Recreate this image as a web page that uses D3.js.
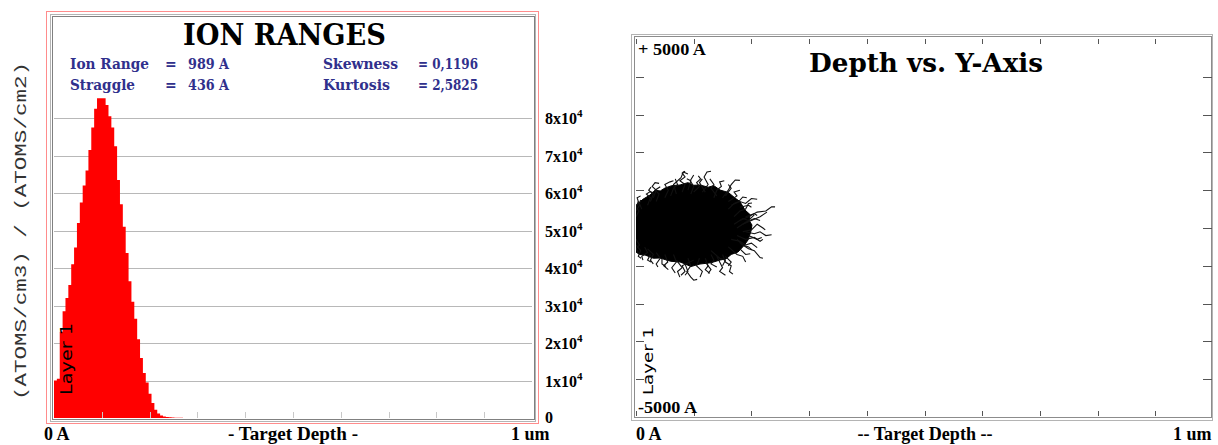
<!DOCTYPE html>
<html>
<head>
<meta charset="utf-8">
<script src="https://cdn.jsdelivr.net/npm/d3@7"></script>
<style>
  html, body { margin: 0; padding: 0; background: #fff; }
  svg { display: block; }
</style>
</head>
<body>
<svg id="chart" width="1218" height="445"></svg>
<script>
// ---- ion range histogram (60 A bins, atoms/cm3 per atoms/cm2) ----
var binWidth = 60;
var ionCounts = [10000, 10500, 23000, 28500, 32000, 35500, 41000, 45500, 52000, 57500,
                 62000, 66000, 71500, 77500, 82500, 85300, 85300, 85300, 83500, 80500,
                 77500, 72500, 63500, 57000, 51000, 44000, 36500, 31000, 26500, 21000,
                 16000, 12000, 9500, 6500, 4000, 2200, 1200, 700, 400, 300,
                 200, 150, 100, 100, 50];
var countTicks = [10000, 20000, 30000, 40000, 50000, 60000, 70000, 80000];
var countTickLabels = ["1", "2", "3", "4", "5", "6", "7", "8"];
var depthTicks = [1000, 2000, 3000, 4000, 5000, 6000, 7000, 8000, 9000];
var statNames = ["Ion Range", "Straggle", "Skewness", "Kurtosis"];
var statValues = ["989 A", "436 A", "0,1196", "2,5825"];

// ---- depth vs lateral trajectories (A) ----
var lateralTicks = [-4000, -3000, -2000, -1000, 0, 1000, 2000, 3000, 4000];
var trackDepthTicks = [0, 1000, 2000, 3000, 4000, 5000, 6000, 7000, 8000, 9000];
var coreOutline = [[0, 600], [120, 760], [243, 873], [330, 1000], [420, 980], [503, 1058], [620, 1120],
                   [763, 1138], [900, 1200], [1000, 1130], [1109, 1138], [1250, 1080], [1350, 1120],
                   [1456, 1005], [1600, 940], [1716, 794], [1800, 700], [1889, 476], [1980, 350],
                   [1960, 200], [2010, 79], [1990, -100], [1941, -318], [1880, -450], [1768, -635],
                   [1650, -700], [1556, -820], [1456, -847], [1300, -920], [1109, -953], [950, -1020],
                   [850, -950], [763, -900], [600, -880], [416, -794], [300, -800], [156, -714],
                   [60, -700], [0, -635]];
var tracks = [
  [[700, 900], [650, 1150], [780, 1330], [820, 1480], [900, 1430]],
  [[1150, 950], [1250, 1150], [1180, 1350], [1230, 1480], [1300, 1500]],
  [[500, 800], [560, 1000], [500, 1150], [590, 1220], [650, 1250]],
  [[350, 700], [400, 900], [330, 1000], [420, 1090]],
  [[200, 600], [250, 800], [180, 900], [240, 960], [300, 940]],
  [[1500, 800], [1600, 1000], [1650, 1150], [1720, 1270], [1800, 1260]],
  [[1350, 800], [1400, 1000], [1480, 1100], [1450, 1220], [1530, 1250]],
  [[1600, 500], [1700, 650], [1780, 700], [1850, 820], [1920, 800]],
  [[1700, 300], [1800, 450], [1900, 500], [1950, 650], [2010, 660]],
  [[1800, 200], [1950, 300], [2100, 420], [2250, 450], [2350, 560], [2410, 560]],
  [[1850, 100], [2000, 200], [2150, 300], [2270, 420]],
  [[1850, -100], [2000, -50], [2100, 100], [2200, 0], [2240, -50]],
  [[1800, -400], [1950, -550], [2050, -600], [2150, -780], [2200, -800]],
  [[1750, -300], [1850, -450], [1950, -500], [2010, -580]],
  [[1500, -700], [1550, -900], [1650, -1000], [1620, -1150], [1680, -1220]],
  [[1300, -700], [1350, -850], [1300, -950], [1400, -1030]],
  [[900, -800], [950, -1000], [880, -1150], [950, -1300], [1000, -1380], [1060, -1360]],
  [[650, -700], [700, -900], [620, -1050], [680, -1190]],
  [[350, -650], [420, -800], [350, -950], [380, -1030]],
  [[150, -500], [200, -650], [100, -750], [120, -850]],
  [[1100, -800], [1050, -1000], [1150, -1150], [1110, -1300]],
  [[100, 500], [60, 650], [80, 740]],
  [[950, 900], [1000, 1100], [940, 1250], [1000, 1400]],
  [[1300, -600], [1450, -800], [1550, -850], [1500, -1000]],
  [[300, 800], [350, 1000], [280, 1100], [330, 1200], [400, 1180]],
  [[800, 950], [850, 1150], [760, 1250], [850, 1350], [800, 1450], [850, 1500]],
  [[1600, 700], [1750, 850], [1700, 950], [1800, 1000]],
  [[1750, 0], [1900, 150], [2050, 250], [2150, 200]],
  [[1750, -200], [1900, -300], [2050, -250], [2150, -350], [2200, -300]],
  [[1600, -500], [1750, -700], [1850, -750], [1900, -900]],
  [[1200, -800], [1250, -1000], [1200, -1100], [1280, -1200]],
  [[500, -700], [550, -900], [480, -1000], [560, -1100]],
  [[200, -550], [300, -700], [250, -850], [300, -950]],
  [[1000, -850], [800, -1000], [850, -1150], [780, -1250]],
  [[1900, -100], [2050, -150], [2150, -100], [2250, -200], [2350, -180]],
  [[600, 850], [650, 1050], [720, 1150], [680, 1300]],
  [[1400, 850], [1300, 1050], [1350, 1150], [1280, 1300]],
  [[0, 300], [50, 450], [0, 550], [40, 700]],
  [[0, -300], [60, -450], [0, -550], [40, -650]],
  [[1000, 950], [1100, 1100], [1050, 1200], [1120, 1300], [1080, 1380]],
  [[1650, 600], [1800, 700], [1900, 650], [2000, 780], [2100, 760]],
  [[1700, 100], [1850, 250], [1950, 200], [2050, 350]],
  [[1650, -300], [1800, -350], [1900, -450], [2000, -400], [2100, -520]],
  [[1400, -750], [1500, -1050], [1450, -1150], [1550, -1250]],
  [[700, -850], [800, -1050], [720, -1150], [760, -1300]],
  [[250, 700], [300, 900], [220, 1000], [260, 1080]],
  [[900, 1000], [950, 1250], [880, 1300]],
  [[1200, 950], [1100, 1200], [1150, 1300]],
  [[1550, 850], [1650, 1050], [1600, 1150]],
  [[1800, 550], [1950, 600], [2000, 550]],
  [[1900, 300], [2050, 380], [2100, 330]],
  [[1950, -200], [2100, -300], [2180, -250]],
  [[1800, -550], [1900, -700], [1980, -680]],
  [[1550, -750], [1650, -900], [1600, -1000]],
  [[1200, -900], [1300, -1100], [1250, -1200]],
  [[850, -950], [900, -1150], [850, -1250]],
  [[450, -800], [450, -950], [520, -1020]],
  [[250, -700], [200, -850], [260, -900]],
  [[0, -450], [80, -600], [40, -750], [90, -800]],
  [[0, 450], [60, 600], [20, 800], [80, 850]]
];

var svg = d3.select("#chart");
var serifBold = "'Liberation Serif', 'Times New Roman', serif";
var wideSerif = "'DejaVu Serif', serif";

// ================= left panel =================
var x = d3.scaleLinear().domain([0, 10000]).range([54, 532]);
var y = d3.scaleLinear().domain([0, 80000]).range([418, 118]);

svg.append("rect").attr("x", 46.5).attr("y", 11.5).attr("width", 492).attr("height", 412)
  .attr("fill", "none").attr("stroke", "#ff8c8c");
svg.append("rect").attr("x", 50.5).attr("y", 14.5).attr("width", 485).attr("height", 407)
  .attr("fill", "#fff").attr("stroke", "#b4b4b4");
svg.append("rect").attr("x", 52.5).attr("y", 16.5).attr("width", 482).attr("height", 403)
  .attr("fill", "none").attr("stroke", "#808080");

// gridlines
svg.selectAll(".grid").data(countTicks).join("line")
  .attr("class", "grid")
  .attr("x1", x(0)).attr("x2", x(10000))
  .attr("y1", d => Math.round(y(d)) + 0.5).attr("y2", d => Math.round(y(d)) + 0.5)
  .attr("stroke", "#b8b8b8");

// histogram as one stepped area
var histPts = ionCounts.map((v, i) => [i * binWidth, v]);
histPts.push([ionCounts.length * binWidth, 0]);
svg.append("path")
  .attr("d", d3.area().x(d => x(d[0])).y0(y(0)).y1(d => y(d[1])).curve(d3.curveStepAfter)(histPts))
  .attr("fill", "#ff0000");

// depth ticks
svg.selectAll(".xt").data(depthTicks).join("line")
  .attr("class", "xt")
  .attr("x1", d => Math.round(x(d)) + 0.5).attr("x2", d => Math.round(x(d)) + 0.5)
  .attr("y1", 418).attr("y2", 412)
  .attr("stroke", "#c8c8c8");

// right axis labels
var lab = svg.selectAll(".yl").data(countTicks).join("text")
  .attr("class", "yl")
  .attr("x", 545).attr("y", d => y(d) + 6)
  .attr("font-family", serifBold).attr("font-weight", "bold").attr("font-size", 16);
lab.append("tspan").text((d, i) => countTickLabels[i] + "x10");
lab.append("tspan").attr("font-size", 11).attr("dy", -7).text("4");
svg.append("text").attr("x", 545).attr("y", y(0) + 5).text("0")
  .attr("font-family", serifBold).attr("font-weight", "bold").attr("font-size", 16);

// title and stats
svg.append("text").attr("x", 183).attr("y", 45).text("ION RANGES")
  .attr("font-family", wideSerif).attr("font-weight", "bold").attr("font-size", 30)
  .attr("textLength", 203).attr("lengthAdjust", "spacingAndGlyphs");

var statPos = [[70, 69], [70, 90], [323, 69], [323, 90]];
var statW = [79, 65, 75, 67];
statNames.forEach(function (n, i) {
  var g = svg.append("g").attr("font-family", wideSerif).attr("font-weight", "bold")
    .attr("font-size", 14).attr("fill", "#30308c");
  g.append("text").attr("x", statPos[i][0]).attr("y", statPos[i][1]).text(n)
    .attr("textLength", statW[i]).attr("lengthAdjust", "spacingAndGlyphs");
  if (i < 2) {
    g.append("text").attr("x", 165).attr("y", statPos[i][1]).text("=");
    g.append("text").attr("x", 188).attr("y", statPos[i][1]).text(statValues[i])
      .attr("textLength", 41).attr("lengthAdjust", "spacingAndGlyphs");
  } else {
    g.append("text").attr("x", 418).attr("y", statPos[i][1]).text("= " + statValues[i])
      .attr("textLength", 60).attr("lengthAdjust", "spacingAndGlyphs");
  }
});

// y axis title
svg.append("text").attr("transform", "translate(26,400) rotate(-90)")
  .text("(ATOMS/cm3) / (ATOMS/cm2)")
  .attr("font-family", "'Liberation Mono', 'DejaVu Sans Mono', monospace").attr("font-size", 17)
  .attr("fill", "#333").attr("textLength", 338).attr("lengthAdjust", "spacingAndGlyphs");

svg.append("text").attr("transform", "translate(72,395) rotate(-90)").text("Layer 1")
  .attr("font-family", "'DejaVu Sans', sans-serif").attr("font-size", 15).attr("fill", "#000")
  .attr("textLength", 72).attr("lengthAdjust", "spacingAndGlyphs");

// bottom labels
var bottomLeft = svg.append("g").attr("font-family", serifBold).attr("font-weight", "bold").attr("font-size", 18);
bottomLeft.append("text").attr("x", 44).attr("y", 440).text("0 A");
bottomLeft.append("text").attr("x", 293).attr("y", 440).attr("text-anchor", "middle").text("- Target Depth -")
  .attr("textLength", 130).attr("lengthAdjust", "spacingAndGlyphs");
bottomLeft.append("text").attr("x", 511).attr("y", 440).text("1 um");

// ================= right panel =================
var x2 = d3.scaleLinear().domain([0, 10000]).range([636, 1213]);
var y2 = d3.scaleLinear().domain([-5000, 5000]).range([417, 39]);

svg.append("rect").attr("x", 631.5).attr("y", 34.5).attr("width", 581).attr("height", 386)
  .attr("fill", "#fff").attr("stroke", "#b4b4b4");
svg.append("rect").attr("x", 634.5).attr("y", 36.5).attr("width", 577).attr("height", 381)
  .attr("fill", "none").attr("stroke", "#8c8c8c");

svg.append("clipPath").attr("id", "plot2")
  .append("rect").attr("x", 636).attr("y", 39).attr("width", 576).attr("height", 378);

var tk = "#555";
svg.selectAll(".tt").data(trackDepthTicks).join("line").attr("class", "tt")
  .attr("x1", d => Math.round(x2(d)) + 0.5).attr("x2", d => Math.round(x2(d)) + 0.5)
  .attr("y1", 39).attr("y2", 44).attr("stroke", tk);
svg.selectAll(".bt").data(trackDepthTicks).join("line").attr("class", "bt")
  .attr("x1", d => Math.round(x2(d)) + 0.5).attr("x2", d => Math.round(x2(d)) + 0.5)
  .attr("y1", 411).attr("y2", 416).attr("stroke", tk);
svg.selectAll(".lt").data(lateralTicks).join("line").attr("class", "lt")
  .attr("x1", 636).attr("x2", 644)
  .attr("y1", d => Math.round(y2(d)) + 0.5).attr("y2", d => Math.round(y2(d)) + 0.5).attr("stroke", tk);
svg.selectAll(".rt").data(lateralTicks).join("line").attr("class", "rt")
  .attr("x1", 1203).attr("x2", 1212)
  .attr("y1", d => Math.round(y2(d)) + 0.5).attr("y2", d => Math.round(y2(d)) + 0.5).attr("stroke", tk);

// trajectory cloud
var cloud = svg.append("g").attr("clip-path", "url(#plot2)");
var traj = d3.line().x(d => x2(d[0])).y(d => y2(d[1]));
cloud.append("path")
  .attr("d", d3.line().x(d => x2(d[0])).y(d => y2(d[1])).curve(d3.curveLinearClosed)(coreOutline))
  .attr("fill", "#000").attr("stroke", "#000").attr("stroke-width", 1);
cloud.selectAll("path.track").data(tracks).join("path")
  .attr("class", "track")
  .attr("d", traj).attr("fill", "none").attr("stroke", "#111").attr("stroke-width", 1.1);

// texts
svg.append("text").attr("x", 809).attr("y", 72).text("Depth vs. Y-Axis")
  .attr("font-family", wideSerif).attr("font-weight", "bold").attr("font-size", 26)
  .attr("textLength", 234).attr("lengthAdjust", "spacingAndGlyphs");
svg.append("text").attr("x", 638).attr("y", 55).text("+ 5000 A")
  .attr("font-family", serifBold).attr("font-weight", "bold").attr("font-size", 16)
  .attr("textLength", 68).attr("lengthAdjust", "spacingAndGlyphs");
svg.append("text").attr("x", 638).attr("y", 413).text("-5000 A")
  .attr("font-family", serifBold).attr("font-weight", "bold").attr("font-size", 17)
  .attr("textLength", 59).attr("lengthAdjust", "spacingAndGlyphs");
svg.append("text").attr("transform", "translate(653,395) rotate(-90)").text("Layer 1")
  .attr("font-family", "'DejaVu Sans', sans-serif").attr("font-size", 14).attr("fill", "#000")
  .attr("textLength", 68).attr("lengthAdjust", "spacingAndGlyphs");

var bottomRight = svg.append("g").attr("font-family", serifBold).attr("font-weight", "bold").attr("font-size", 18);
bottomRight.append("text").attr("x", 636).attr("y", 440).text("0 A");
bottomRight.append("text").attr("x", 925).attr("y", 440).attr("text-anchor", "middle").text("-- Target Depth --")
  .attr("textLength", 135).attr("lengthAdjust", "spacingAndGlyphs");
bottomRight.append("text").attr("x", 1173).attr("y", 440).text("1 um");
</script>
</body>
</html>
